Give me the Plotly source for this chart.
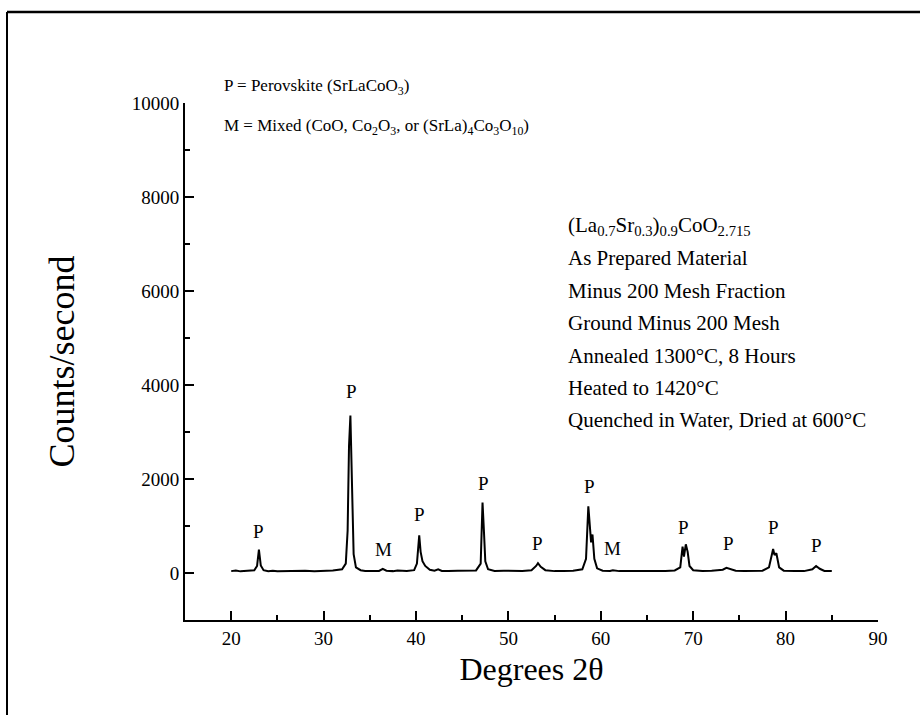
import plotly.graph_objects as go

# ---- data ----
two_theta = [20.0, 20.5, 21.0, 21.5, 22.0, 22.5, 22.8, 23.0, 23.2, 23.5, 24.0, 24.5, 25.0, 26.0, 27.0,
             28.0, 29.0, 30.0, 31.0, 32.0, 32.4, 32.6, 32.75, 32.9, 33.0, 33.1, 33.25, 33.5, 34.0, 34.5,
             35.0, 35.5, 36.0, 36.4, 36.8, 37.5, 38.0, 39.0, 39.8, 40.1, 40.35, 40.5, 40.7, 41.0, 41.5,
             42.0, 42.4, 42.8, 43.5, 44.5, 45.5, 46.5, 47.0, 47.2, 47.35, 47.5, 47.8, 48.5, 49.5, 50.5,
             51.5, 52.5, 53.0, 53.2, 53.5, 54.0, 55.0, 56.0, 57.0, 58.0, 58.4, 58.65, 58.8, 58.95, 59.1,
             59.3, 59.6, 60.2, 61.0, 61.3, 62.0, 63.0, 64.0, 65.0, 66.0, 67.0, 68.0, 68.6, 68.85, 69.0,
             69.2, 69.4, 69.6, 70.0, 71.0, 72.0, 73.2, 73.6, 74.0, 74.6, 75.5, 76.5, 77.5, 78.2, 78.5,
             78.65, 78.8, 79.0, 79.3, 79.8, 81.0, 82.0, 82.9, 83.3, 83.7, 84.2, 85.0]
counts = [40, 55, 35, 45, 50, 60, 150, 500, 160, 60, 40, 50, 35, 45, 40,
          50, 38, 45, 55, 80, 200, 900, 2700, 3350, 2650, 1500, 400, 120, 60, 45,
          40, 50, 45, 90, 50, 40, 55, 45, 60, 200, 800, 450, 250, 150, 70,
          50, 80, 45, 40, 50, 45, 55, 200, 1500, 900, 250, 80, 45, 50, 40,
          45, 60, 150, 210, 130, 60, 40, 45, 50, 80, 300, 1420, 900, 650, 820,
          300, 100, 50, 45, 60, 40, 45, 40, 50, 45, 40, 55, 120, 560, 350,
          610, 450, 150, 60, 45, 50, 70, 110, 80, 50, 40, 45, 50, 120, 350,
          510, 380, 420, 120, 50, 45, 40, 80, 150, 90, 45, 40]

peak_label_x = [23.0, 33.0, 36.5, 40.4, 47.3, 53.2, 58.8, 61.3, 69.0, 73.8, 78.7, 83.3]
peak_label_y = [890, 3870, 510, 1255, 1915, 620, 1850, 530, 960, 620, 960, 575]
peak_label_text = ["P", "P", "M", "P", "P", "P", "P", "M", "P", "P", "P", "P"]

legend_lines = ["P = Perovskite (SrLaCoO<sub>3</sub>)",
                "M = Mixed (CoO, Co<sub>2</sub>O<sub>3</sub>, or (SrLa)<sub>4</sub>Co<sub>3</sub>O<sub>10</sub>)"]
info_lines = ["(La<sub>0.7</sub>Sr<sub>0.3</sub>)<sub>0.9</sub>CoO<sub>2.715</sub>",
              "As Prepared Material",
              "Minus 200 Mesh Fraction",
              "Ground Minus 200 Mesh",
              "Annealed 1300°C, 8 Hours",
              "Heated to 1420°C",
              "Quenched in Water, Dried at 600°C"]

x_ticks = [20, 30, 40, 50, 60, 70, 80, 90]
y_ticks = [0, 2000, 4000, 6000, 8000, 10000]
y_tick_text = ["0", "2000", "4000", "6000", "8000", "10000"]

# ---- layout geometry (pixels) ----
W, H = 920, 715
L, R, T, B = 185, 42, 103, 95
pw, ph = W - L - R, H - T - B


def px(x):
    return (x - L) / pw


def py(y):
    return (H - B - y) / ph


FONT = "Liberation Serif"

fig = go.Figure()
fig.add_trace(go.Scatter(x=two_theta, y=counts, mode="lines",
                         line=dict(color="black", width=2), showlegend=False,
                         hoverinfo="skip"))

for xv, yv, t in zip(peak_label_x, peak_label_y, peak_label_text):
    fig.add_annotation(x=xv, y=yv, text=t, showarrow=False,
                       font=dict(family=FONT, size=19, color="black"))

legend_y = [87, 127]
for i, t in enumerate(legend_lines):
    fig.add_annotation(xref="paper", yref="paper", x=px(222), y=py(legend_y[i]),
                       xanchor="left", yanchor="middle", text=t, showarrow=False,
                       font=dict(family=FONT, size=17, color="black"))

for i, t in enumerate(info_lines):
    fig.add_annotation(xref="paper", yref="paper", x=px(566), y=py(226 + i * 32.4),
                       xanchor="left", yanchor="middle", text=t, showarrow=False,
                       font=dict(family=FONT, size=21, color="black"))

# outer frame (left and top borders of the scanned figure)
fig.add_shape(type="line", xref="paper", yref="paper", x0=px(7), x1=px(7), y0=py(12), y1=py(715),
              line=dict(color="black", width=2))
fig.add_shape(type="line", xref="paper", yref="paper", x0=px(7), x1=px(920), y0=py(12), y1=py(12),
              line=dict(color="black", width=2.5))

fig.update_xaxes(range=[15, 90], tickvals=x_ticks, ticks="inside", ticklen=9, tickwidth=1.5,
                 tickcolor="black", showline=True, linewidth=2, linecolor="black", mirror=False,
                 showgrid=False, zeroline=False,
                 minor=dict(dtick=5, ticks="inside", ticklen=5, tickcolor="black", tickwidth=1.5),
                 tickfont=dict(family=FONT, size=19, color="black"),
                 title=dict(text="Degrees 2θ", font=dict(family=FONT, size=32, color="black"),
                            standoff=10))
fig.update_yaxes(range=[-1000, 10000], tickvals=y_ticks, ticktext=y_tick_text, ticks="inside",
                 ticklen=9, tickwidth=1.5,
                 tickcolor="black", showline=True, linewidth=2, linecolor="black", mirror=False,
                 showgrid=False, zeroline=False,
                 minor=dict(dtick=1000, ticks="inside", ticklen=5, tickcolor="black", tickwidth=1.5),
                 tickfont=dict(family=FONT, size=19, color="black"),
                 title=dict(text="Counts/second", font=dict(family=FONT, size=36, color="black"),
                            standoff=46))

fig.update_layout(width=W, height=H, margin=dict(l=L, r=R, t=T, b=B, autoexpand=False),
                  plot_bgcolor="white", paper_bgcolor="white")

fig.write_html("out.html")
